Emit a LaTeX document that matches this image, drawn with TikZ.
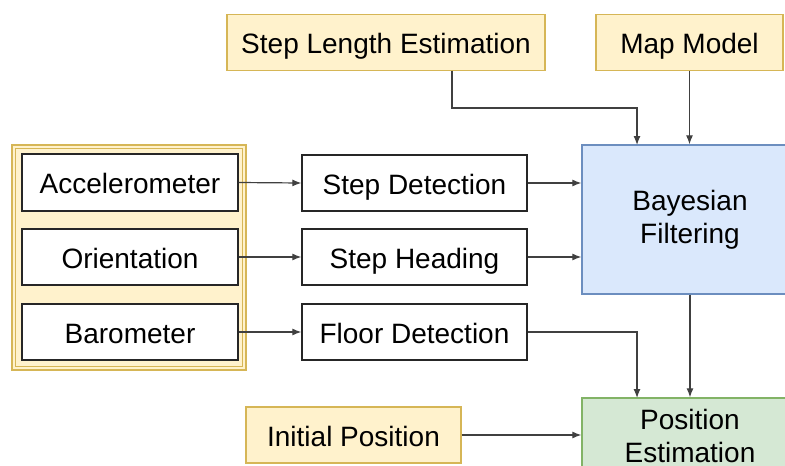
\documentclass[tikz,border=0pt]{standalone}
\usepackage{fontspec}
\setmainfont{Liberation Sans}
\usetikzlibrary{arrows.meta}
\definecolor{yfill}{HTML}{FFF2CC}
\definecolor{ydraw}{HTML}{D6B656}
\definecolor{bfill}{HTML}{DAE8FC}
\definecolor{bdraw}{HTML}{6C8EBF}
\definecolor{gfill}{HTML}{D5E8D4}
\definecolor{gdraw}{HTML}{82B366}
\tikzset{
  box/.style={draw=black!85, line width=1.3pt, fill=white, inner sep=0pt, align=center,
    font=\fontsize{28}{33}\selectfont},
  one/.style={box, text height=22pt, text depth=0pt},
  ybox/.style={one, draw=ydraw, fill=yfill},
  conn/.style={draw=black!75, line width=1.2pt, -{Latex[length=9pt,width=7pt]}},
}
\begin{document}
\begin{tikzpicture}[x=1pt,y=-1pt]
\useasboundingbox (0,0) rectangle (785,466);
% container
\draw[draw=ydraw, fill=yfill, line width=1.2pt] (12,145) rectangle (246,370);
\draw[draw=ydraw, line width=1.2pt] (15.5,148.5) rectangle (242.5,366.5);
% left column
\node[one, minimum width=216pt, minimum height=57pt] (acc) at (130,182.5) {Accelerometer};
\node[one, minimum width=216pt, minimum height=56pt] (ori) at (130,257) {Orientation};
\node[one, minimum width=216pt, minimum height=56pt] (bar) at (130,332) {Barometer};
% middle column
\node[one, minimum width=225pt, minimum height=56pt] (sd) at (414.5,183) {Step Detection};
\node[one, minimum width=225pt, minimum height=56pt] (sh) at (414.5,257) {Step Heading};
\node[one, minimum width=225pt, minimum height=56pt] (fd) at (414.5,332) {Floor Detection};
% top
\node[ybox, minimum width=318pt, minimum height=56pt] (sle) at (386,42.5) {Step Length Estimation};
\node[ybox, minimum width=187pt, minimum height=56pt] (map) at (689.5,42.5) {Map Model};
% right
\node[box, draw=bdraw, fill=bfill, minimum width=216pt, minimum height=149pt] (bay) at (690,219.5) {Bayesian\\Filtering};
\node[box, draw=gdraw, fill=gfill, minimum width=216pt, minimum height=76pt] (pos) at (690,436) {Position\\Estimation};
\node[ybox, minimum width=215pt, minimum height=56pt] (ini) at (353.5,435) {Initial Position};
% helper coordinates
\coordinate (sleout) at (452,70.5);
\coordinate (sleturn) at (452,108);
\coordinate (bayin1) at (637,145);
\coordinate (fdturn) at (637,332);
\coordinate (posin1) at (637,398);
% connectors
\draw[conn] (acc.east) -- (sd.west);
\draw[conn] (ori.east) -- (sh.west);
\draw[conn] (bar.east) -- (fd.west);
\draw[conn] (sd.east) -- (sd.east -| bay.west);
\draw[conn] (sh.east) -- (sh.east -| bay.west);
\draw[conn] (sleout) -- (sleturn) -| (bayin1);
\draw[conn] (map.south) -- (map.south |- bay.north);
\draw[conn] (fd.east) -- (fdturn) -- (posin1);
\draw[conn] (bay.south) -- (pos.north);
\draw[conn] (ini.east) -- (ini.east -| pos.west);
\end{tikzpicture}
\end{document}
